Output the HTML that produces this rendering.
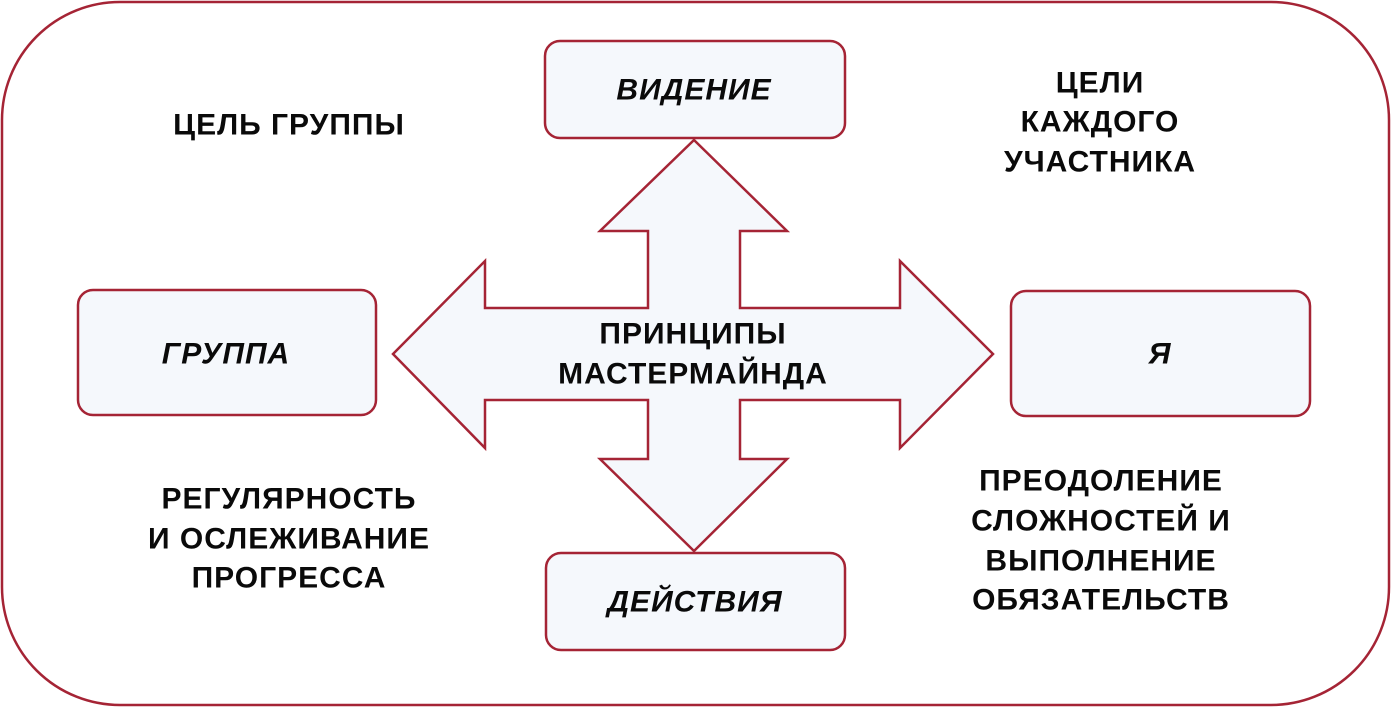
<!DOCTYPE html>
<html><head><meta charset="utf-8"><style>
html,body{margin:0;padding:0;background:#fff;}
svg{display:block;}
text{font-family:"Liberation Sans","DejaVu Sans",sans-serif;font-weight:bold;font-size:30px;fill:#0a0a0a;letter-spacing:1px;}
.i{font-style:italic;}
</style></head><body>
<svg width="1391" height="708" viewBox="0 0 1391 708" xmlns="http://www.w3.org/2000/svg">
<rect x="2" y="2" width="1387" height="703" rx="118" ry="118" fill="#fff" stroke="#a52435" stroke-width="2.5"/>
<g fill="#f5f8fc" stroke="#a52435" stroke-width="2.5">
<rect x="545" y="41" width="300" height="97" rx="15"/>
<rect x="78" y="290" width="298" height="125" rx="15"/>
<rect x="1011" y="291" width="299" height="125" rx="15"/>
<rect x="546" y="553" width="299" height="97" rx="15"/>
<path d="M694 140 L787 231 L740 231 L740 308 L900 308 L900 261 L993 354 L900 448 L900 400 L740 400 L740 459 L787 459 L694 551 L600 459 L648 459 L648 400 L485 400 L485 448 L393 354 L485 261 L485 308 L648 308 L648 231 L600 231 Z" stroke-linejoin="miter"/>
</g>
<g text-anchor="middle" dominant-baseline="central">
<text class="i" x="694" y="90">ВИДЕНИЕ</text>
<text class="i" x="226" y="354">ГРУППА</text>
<text class="i" x="1160" y="354">Я</text>
<text class="i" x="695" y="602">ДЕЙСТВИЯ</text>
<text x="693" y="334">ПРИНЦИПЫ</text>
<text x="693" y="374">МАСТЕРМАЙНДА</text>
<text x="289" y="125">ЦЕЛЬ ГРУППЫ</text>
<text x="1100" y="83">ЦЕЛИ</text>
<text x="1100" y="122">КАЖДОГО</text>
<text x="1100" y="162">УЧАСТНИКА</text>
<text x="289" y="499">РЕГУЛЯРНОСТЬ</text>
<text x="289" y="539">И ОСЛЕЖИВАНИЕ</text>
<text x="289" y="578">ПРОГРЕССА</text>
<text x="1101" y="481">ПРЕОДОЛЕНИЕ</text>
<text x="1101" y="521">СЛОЖНОСТЕЙ И</text>
<text x="1101" y="561">ВЫПОЛНЕНИЕ</text>
<text x="1101" y="600">ОБЯЗАТЕЛЬСТВ</text>
</g>
</svg>
</body></html>
